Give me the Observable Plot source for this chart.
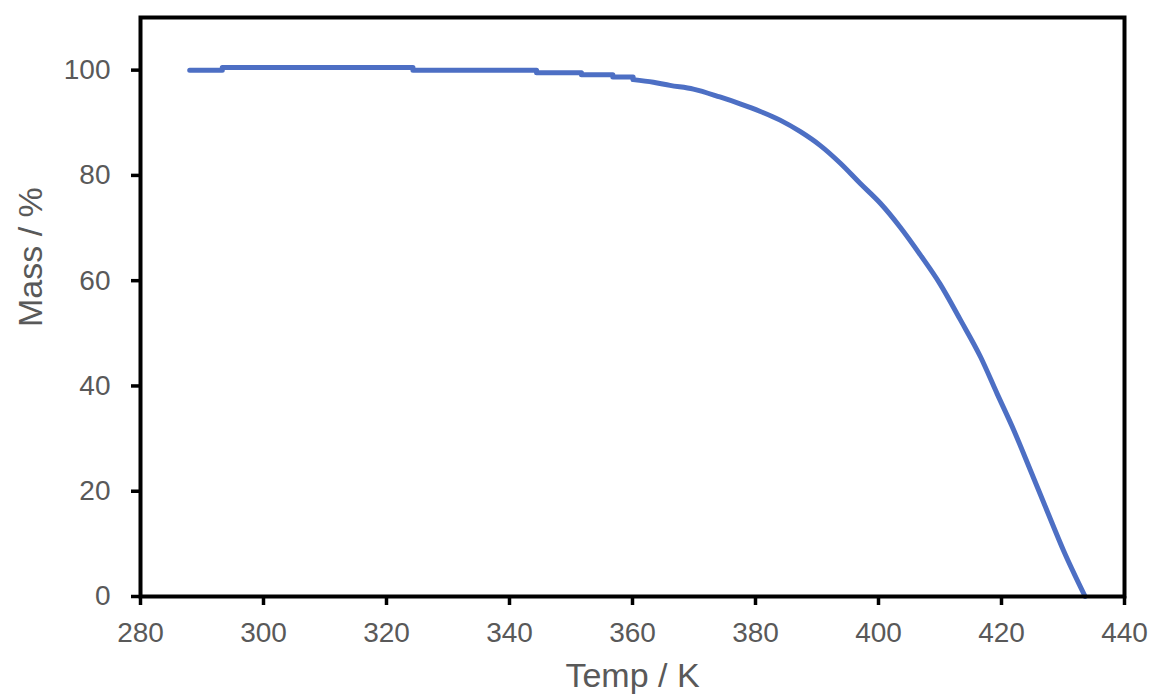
<!DOCTYPE html>
<html>
<head>
<meta charset="utf-8">
<script src="https://cdn.jsdelivr.net/npm/d3@7"></script>
<script src="https://cdn.jsdelivr.net/npm/@observablehq/plot@0.6"></script>
<style>
  html, body { margin: 0; padding: 0; background: #fff; }
</style>
</head>
<body>
<div id="chart"></div>
<script>
// Temperature (K) and mass (%)
// Early, stepped part (balance resolution steps)
const stepTemps = [288.0, 293.3, 293.3, 324.3, 324.3, 344.4, 344.4, 351.7, 351.7, 356.8, 356.8, 360.1, 360.1];
const stepMasses = [100.0, 100.0, 100.5, 100.5, 100.0, 100.0, 99.5, 99.5, 99.1, 99.1, 98.7, 98.7, 98.2];
// Smooth decomposition part
const curveTemps = [360.1, 363.4, 366.1, 369.9, 374.2, 377.5, 380.7, 384.0, 387.3, 390.5, 393.8, 397.0, 400.3, 403.5,
  406.8, 410.0, 413.3, 416.6, 419.3, 422.0, 424.7, 427.4, 430.1, 433.6];
const curveMasses = [98.2, 97.7, 97.1, 96.4, 94.9, 93.6, 92.2, 90.5, 88.3, 85.7, 82.3, 78.5, 74.7, 70.2,
  64.9, 59.4, 52.6, 45.5, 38.5, 31.6, 24.0, 16.3, 8.7, 0.0];
const xTicks = [280, 300, 320, 340, 360, 380, 400, 420, 440];
const yTicks = [0, 20, 40, 60, 80, 100];
const xLabel = "Temp / K";
const yLabel = "Mass / %";

const stepData = stepTemps.map((t, i) => ({T: t, M: stepMasses[i]}));
const curveData = curveTemps.map((t, i) => ({T: t, M: curveMasses[i]}));
const lineStyle = {x: "T", y: "M", stroke: "#4D6FC4", strokeWidth: 5, strokeLinejoin: "round", strokeLinecap: "round"};

const chart = Plot.plot({
  width: 1153,
  height: 700,
  marginLeft: 140,
  marginRight: 29,
  marginTop: 17,
  marginBottom: 104,
  style: {fontFamily: "'Liberation Sans', Arial, sans-serif", color: "#595959", background: "#fff"},
  x: {domain: [280, 440]},
  y: {domain: [0, 110]},
  marks: [
    Plot.line(stepData, lineStyle),
    Plot.line(curveData, {...lineStyle, curve: "monotone-x"}),
    Plot.axisX({ticks: xTicks, tickSize: 9, tickPadding: 17, stroke: "black", strokeWidth: 3.5, fill: "#595959", fontSize: 28, label: null}),
    Plot.axisY({ticks: yTicks, tickSize: 9, tickPadding: 21, stroke: "black", strokeWidth: 3.5, fill: "#595959", fontSize: 28, label: null}),
    Plot.frame({stroke: "black", strokeWidth: 4}),
    Plot.text([xLabel], {frameAnchor: "bottom", text: d => d, dy: 90, fontSize: 34, fill: "#595959"}),
    Plot.text([yLabel], {frameAnchor: "left", text: d => d, rotate: -90, dx: -109, dy: 20, fontSize: 34, fill: "#595959"})
  ]
});
document.getElementById("chart").appendChild(chart);
</script>
</body>
</html>
